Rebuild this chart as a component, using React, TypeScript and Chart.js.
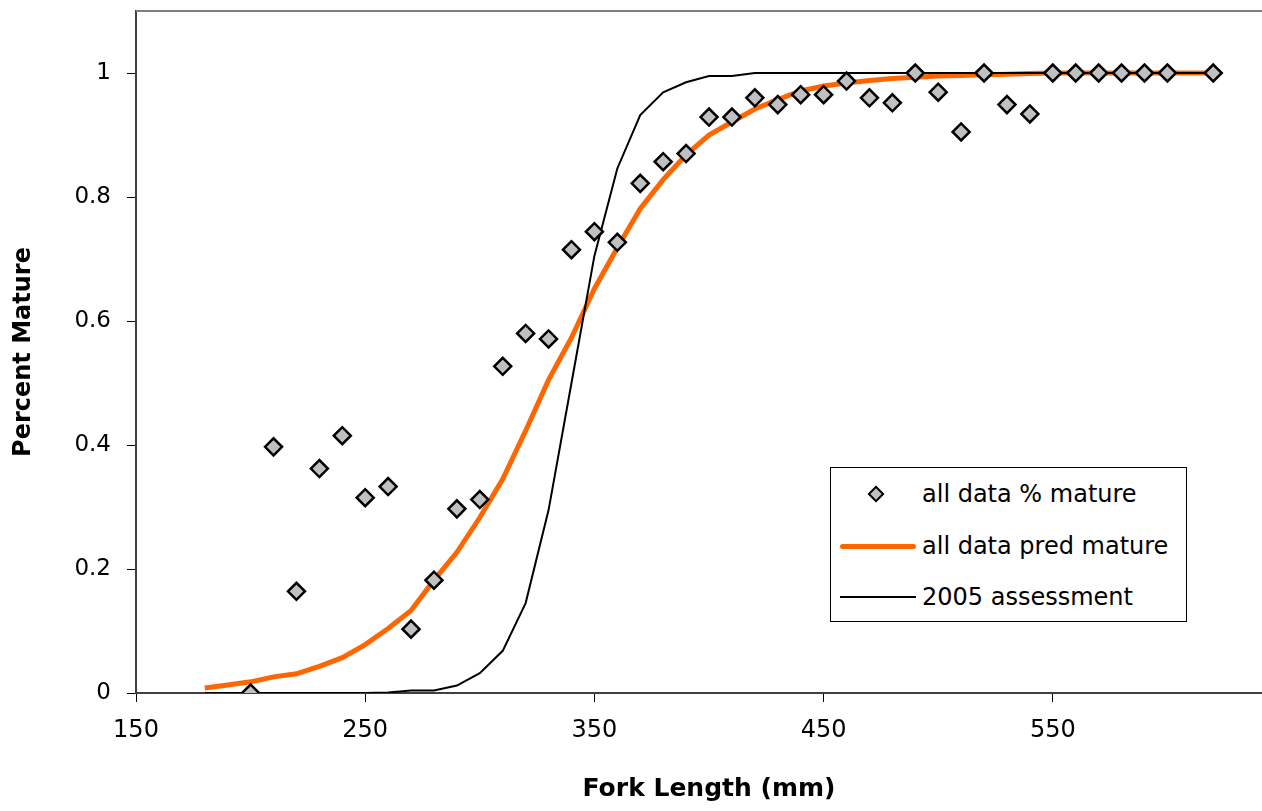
import { useEffect, useRef } from 'react';
import { Chart, registerables } from 'chart.js';

Chart.register(...registerables);

// Observed maturity (fraction mature) by fork length
const obsLength = [200, 210, 220, 230, 240, 250, 260, 270, 280, 290, 300, 310, 320, 330, 340, 350, 360, 370, 380, 390, 400, 410, 420, 430, 440, 450, 460, 470, 480, 490, 500, 510, 520, 530, 540, 550, 560, 570, 580, 590, 600, 620];
const obsMature = [0, 0.397, 0.164, 0.362, 0.415, 0.315, 0.333, 0.103, 0.182, 0.297, 0.312, 0.527, 0.58, 0.571, 0.715, 0.744, 0.727, 0.822, 0.857, 0.87, 0.929, 0.929, 0.96, 0.949, 0.965, 0.965, 0.987, 0.96, 0.952, 1, 0.969, 0.905, 1, 0.949, 0.934, 1, 1, 1, 1, 1, 1, 1];

// Curves
const curveLength = [180, 190, 200, 210, 220, 230, 240, 250, 260, 270, 280, 290, 300, 310, 320, 330, 340, 350, 360, 370, 380, 390, 400, 410, 420, 430, 440, 450, 460, 470, 480, 490, 500, 510, 520, 530, 540, 550, 560, 570, 580, 590, 600, 610, 620];
const predMature = [0.008, 0.013, 0.018, 0.026, 0.031, 0.043, 0.057, 0.078, 0.104, 0.133, 0.182, 0.227, 0.283, 0.345, 0.423, 0.505, 0.573, 0.652, 0.718, 0.781, 0.828, 0.868, 0.9, 0.921, 0.942, 0.957, 0.971, 0.979, 0.984, 0.988, 0.991, 0.993, 0.995, 0.996, 0.997, 0.998, 0.999, 1, 1, 1, 1, 1, 1, 1, 1];
const assessMature = [0, 0, 0, 0, 0, 0, 0, 0, 0.001, 0.004, 0.004, 0.012, 0.032, 0.068, 0.145, 0.295, 0.5, 0.705, 0.846, 0.932, 0.969, 0.985, 0.995, 0.995, 1, 1, 1, 1, 1, 1, 1, 1, 1, 1, 1, 1, 1, 1, 1, 1, 1, 1, 1, 1, 1];

const xTickValues = [150, 250, 350, 450, 550];
const yTickValues = [0, 0.2, 0.4, 0.6, 0.8, 1];

const seriesNames = ['all data % mature', 'all data pred mature', '2005 assessment'];

const FONT = '"DejaVu Sans", "Liberation Sans", Arial, sans-serif';

export default function App() {
  const canvasRef = useRef<HTMLCanvasElement | null>(null);

  useEffect(() => {
    document.body.style.margin = '0';
    const canvas = canvasRef.current;
    if (!canvas) return;

    const frame = {
      id: 'frame',
      afterDraw(chart: any) {
        const { ctx, chartArea } = chart;
        ctx.save();
        ctx.strokeStyle = '#808080';
        ctx.lineWidth = 2;
        ctx.beginPath();
        ctx.moveTo(chartArea.left, chartArea.top);
        ctx.lineTo(chartArea.right, chartArea.top);
        ctx.lineTo(chartArea.right, chartArea.bottom);
        ctx.stroke();
        ctx.restore();
      },
    };

    const chart = new Chart(canvas, {
      type: 'scatter',
      data: {
        datasets: [
          {
            label: seriesNames[0],
            data: obsLength.map((x, i) => ({ x, y: obsMature[i] })),
            pointStyle: 'rectRot',
            pointRadius: 8.5,
            backgroundColor: '#C0C0C0',
            borderColor: '#000000',
            borderWidth: 2.5,
            showLine: false,
            order: 0,
          },
          {
            label: seriesNames[2],
            data: curveLength.map((x, i) => ({ x, y: assessMature[i] })),
            showLine: true,
            borderColor: '#000000',
            borderWidth: 2,
            pointRadius: 0,
            order: 1,
          },
          {
            label: seriesNames[1],
            data: curveLength.map((x, i) => ({ x, y: predMature[i] })),
            showLine: true,
            borderColor: '#FF6600',
            borderWidth: 5,
            pointRadius: 0,
            order: 2,
          },
        ],
      },
      options: {
        animation: false,
        responsive: false,
        layout: { padding: { top: 7, right: 7, left: 0, bottom: 0 } },
        plugins: {
          legend: { display: false },
          tooltip: { enabled: false },
        },
        scales: {
          x: {
            type: 'linear',
            min: 150,
            max: 650,
            afterBuildTicks: (axis: any) => {
              axis.ticks = xTickValues.map((v) => ({ value: v }));
            },
            afterFit: (axis: any) => {
              axis.height = 118;
              axis.paddingLeft = 0;
              axis.paddingRight = 0;
            },
            ticks: {
              color: '#000',
              font: { family: FONT, size: 24 },
              padding: 14,
              maxRotation: 0,
              callback: (v: any) => String(v),
            },
            grid: {
              display: true,
              drawOnChartArea: false,
              drawTicks: true,
              tickLength: 9,
              color: '#000',
              lineWidth: 1,
            },
            border: { display: true, color: '#404040', width: 2 },
            title: {
              display: true,
              text: 'Fork Length (mm)',
              color: '#000',
              font: { family: FONT, size: 25, weight: 'bold' },
              padding: { top: 0, bottom: 7 },
            },
          },
          y: {
            type: 'linear',
            min: 0,
            max: 1.1,
            afterBuildTicks: (axis: any) => {
              axis.ticks = yTickValues.map((v) => ({ value: v }));
            },
            afterFit: (axis: any) => {
              axis.width = 136;
              axis.paddingTop = 0;
              axis.paddingBottom = 0;
            },
            ticks: {
              color: '#000',
              font: { family: FONT, size: 23 },
              padding: 16,
              callback: (v: any) => String(Math.round(Number(v) * 10) / 10),
            },
            grid: {
              display: true,
              drawOnChartArea: false,
              drawTicks: true,
              tickLength: 9,
              color: '#000',
              lineWidth: 1,
            },
            border: { display: true, color: '#404040', width: 2 },
            title: {
              display: true,
              text: 'Percent Mature',
              color: '#000',
              font: { family: FONT, size: 24, weight: 'bold' },
              padding: { top: 9, bottom: 0 },
            },
          },
        },
      },
      plugins: [frame],
    });

    return () => chart.destroy();
  }, []);

  const rowStyle = (top: number): any => ({
    position: 'absolute',
    left: 0,
    top: top - 20,
    height: 40,
    width: '100%',
    display: 'flex',
    alignItems: 'center',
  });

  return (
    <div style={{ position: 'relative', width: 1262, height: 811, overflow: 'hidden', background: '#fff' }}>
      <canvas ref={canvasRef} width={1293} height={811} style={{ width: 1293, height: 811, display: 'block' }} />
      <div
        style={{
          position: 'absolute',
          left: 830,
          top: 467,
          width: 357,
          height: 155,
          boxSizing: 'border-box',
          border: '1.5px solid #000',
          background: '#fff',
          fontFamily: FONT,
          fontSize: 24,
          color: '#000',
        }}
      >
        <div style={rowStyle(26)}>
          <div style={{ position: 'absolute', left: 39, top: 14, width: 12, height: 12, boxSizing: 'border-box', background: '#C0C0C0', border: '2px solid #000', transform: 'rotate(45deg)' }} />
          <span style={{ position: 'absolute', left: 91, whiteSpace: 'nowrap' }}>{seriesNames[0]}</span>
        </div>
        <div style={rowStyle(78)}>
          <div style={{ position: 'absolute', left: 9, top: 17.5, width: 76, height: 5, background: '#FF6600', borderRadius: 3 }} />
          <span style={{ position: 'absolute', left: 91, whiteSpace: 'nowrap' }}>{seriesNames[1]}</span>
        </div>
        <div style={rowStyle(129)}>
          <div style={{ position: 'absolute', left: 9, top: 19, width: 76, height: 2, background: '#000' }} />
          <span style={{ position: 'absolute', left: 91, whiteSpace: 'nowrap' }}>{seriesNames[2]}</span>
        </div>
      </div>
    </div>
  );
}
